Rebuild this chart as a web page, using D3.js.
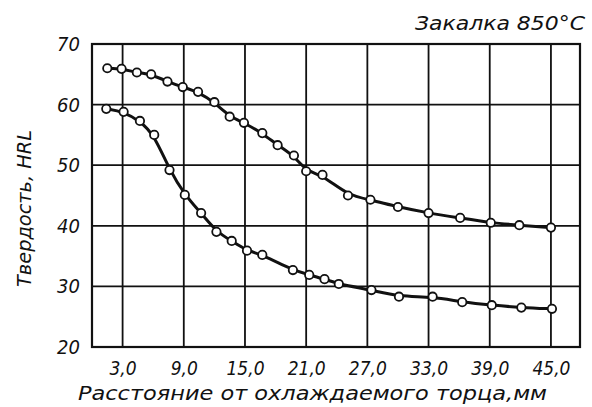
<!DOCTYPE html>
<html><head><meta charset="utf-8">
<script src="https://cdn.jsdelivr.net/npm/d3@7"></script>
<style>
body{margin:0;background:#fff;}
svg text{font-family:"DejaVu Sans Condensed","DejaVu Sans",sans-serif;font-style:italic;fill:#111;}
</style></head>
<body><svg id="c" width="592" height="407"></svg>
<script>
// Data (distance mm, hardness HRL)
const titleText = "Закалка 850°C";
const xTitle = "Расстояние от охлаждаемого торца,мм";
const yTitle = "Твердость, HRL";
const xTicks = [3, 9, 15, 21, 27, 33, 39, 45];
const xTickLabels = ["3,0","9,0","15,0","21,0","27,0","33,0","39,0","45,0"];
const yTicks = [20, 30, 40, 50, 60, 70];
const upperX = [1.5, 2.9, 4.4, 5.8, 7.4, 8.9, 10.4, 12.0, 13.5, 14.9, 16.7, 18.2, 19.8, 21.0, 22.6, 25.1, 27.3, 30.0, 33.0, 36.1, 39.1, 41.9, 45.0];
const upperY = [66.0, 65.9, 65.3, 65.0, 63.8, 62.9, 62.1, 60.4, 58.0, 57.0, 55.3, 53.3, 51.6, 49.0, 48.4, 45.0, 44.3, 43.1, 42.1, 41.3, 40.5, 40.1, 39.7];
const lowerX = [1.4, 3.1, 4.7, 6.1, 7.6, 9.1, 10.7, 12.2, 13.7, 15.2, 16.7, 19.7, 21.3, 22.8, 24.2, 27.4, 30.1, 33.4, 36.3, 39.2, 42.1, 45.1];
const lowerY = [59.3, 58.8, 57.3, 55.0, 49.2, 45.1, 42.1, 39.0, 37.5, 35.9, 35.2, 32.7, 31.9, 31.2, 30.4, 29.4, 28.3, 28.3, 27.4, 26.9, 26.5, 26.3];

const svg = d3.select("#c");
const L = 92, R = 580, T = 44, B = 347;
const x = d3.scaleLinear().domain([0, 47.85]).range([L, R]);
const y = d3.scaleLinear().domain([20, 70]).range([B, T]);
const FF = '"DejaVu Sans Condensed","DejaVu Sans",sans-serif';

// grid
const g = svg.append("g");
g.selectAll("line.v").data(xTicks).join("line")
  .attr("x1", d => x(d)).attr("x2", d => x(d)).attr("y1", T).attr("y2", B)
  .attr("stroke", "#111").attr("stroke-width", 1.8);
g.selectAll("line.h").data(yTicks.slice(1, -1)).join("line")
  .attr("x1", L).attr("x2", R).attr("y1", d => y(d)).attr("y2", d => y(d))
  .attr("stroke", "#111").attr("stroke-width", 1.8);
g.append("rect").attr("x", L).attr("y", T).attr("width", R - L).attr("height", B - T)
  .attr("fill", "none").attr("stroke", "#111").attr("stroke-width", 2.2);

// axes labels
const xAxis = d3.axisBottom(x).tickValues(xTicks).tickFormat((d, i) => xTickLabels[i]).tickSize(0).tickPadding(0);
const xa = svg.append("g").attr("transform", `translate(0,${B})`).call(xAxis);
xa.select(".domain").remove();
xa.selectAll("text").attr("y", 28).attr("dy", 0).attr("font-size", 19)
  .attr("font-family", null).style("font-family", FF).style("font-style","italic");

const yAxis = d3.axisLeft(y).tickValues(yTicks).tickSize(0).tickPadding(0);
const ya = svg.append("g").attr("transform", `translate(80,0)`).call(yAxis);
ya.select(".domain").remove();
ya.selectAll("text").attr("x", 0).attr("dy", "0.32em").attr("font-size", 20)
  .attr("font-family", null).style("font-family", FF).style("font-style","italic");

svg.append("text").attr("x", 415).attr("y", 30).attr("font-size", 20)
  .attr("textLength", 170).attr("lengthAdjust", "spacingAndGlyphs").text(titleText);
svg.append("text").attr("x", 78).attr("y", 400).attr("font-size", 19)
  .attr("textLength", 469).attr("lengthAdjust", "spacingAndGlyphs").text(xTitle);
svg.append("text").attr("transform", "translate(31,287) rotate(-90)").attr("font-size", 20)
  .attr("textLength", 157).attr("lengthAdjust", "spacingAndGlyphs").text(yTitle);

// curves
const line = d3.line().x(d => x(d[0])).y(d => y(d[1])).curve(d3.curveBasis);
const series = [d3.zip(upperX, upperY), d3.zip(lowerX, lowerY)];
series.forEach(s => {
  svg.append("path").datum(s).attr("d", line).attr("fill", "none")
    .attr("stroke", "#111").attr("stroke-width", 3);
  svg.append("g").selectAll("circle").data(s).join("circle")
    .attr("cx", d => x(d[0])).attr("cy", d => y(d[1])).attr("r", 4.2)
    .attr("fill", "#fff").attr("stroke", "#111").attr("stroke-width", 1.8);
});
</script></body></html>
